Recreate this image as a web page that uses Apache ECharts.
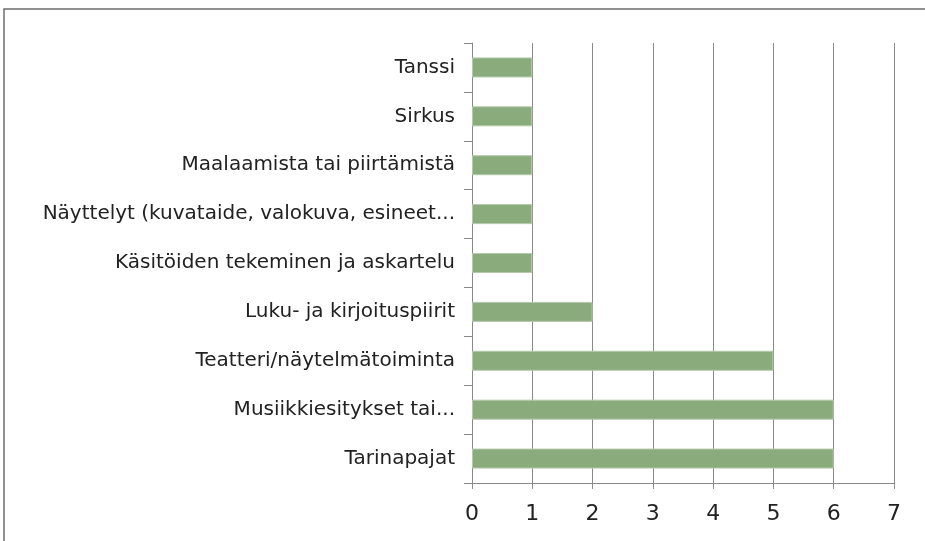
<!DOCTYPE html>
<html>
<head>
<meta charset="utf-8">
<script src="https://cdn.jsdelivr.net/npm/echarts@6/dist/echarts.min.js"></script>
<style>
  html, body { margin: 0; padding: 0; background: #fff; }
  #chart { width: 925px; height: 541px; }
</style>
</head>
<body>
<div id="chart"></div>
<script>
const categories = [
  'Tanssi',
  'Sirkus',
  'Maalaamista tai piirtämistä',
  'Näyttelyt (kuvataide, valokuva, esineet...',
  'Käsitöiden tekeminen ja askartelu',
  'Luku- ja kirjoituspiirit',
  'Teatteri/näytelmätoiminta',
  'Musiikkiesitykset tai...',
  'Tarinapajat'
];
const values = [1, 1, 1, 1, 1, 2, 5, 6, 6];
const xTicks = [0, 1, 2, 3, 4, 5, 6, 7];

const chart = echarts.init(document.getElementById('chart'));
const axisGrey = '#898989';
const font = '"DejaVu Sans", sans-serif';

chart.setOption({
  animation: false,
  graphic: [{
    type: 'rect',
    shape: { x: 4, y: 9, width: 1000, height: 1000 },
    style: { fill: 'none', stroke: '#6d6d6d', lineWidth: 1.5 },
    silent: true
  }],
  grid: { left: 472, right: 31, top: 43, bottom: 58 },
  xAxis: {
    type: 'value',
    min: xTicks[0],
    max: xTicks[xTicks.length - 1],
    interval: 1,
    axisLine: { show: true, lineStyle: { color: axisGrey, width: 1 } },
    axisTick: { show: true, length: 6, lineStyle: { color: axisGrey } },
    splitLine: { show: true, lineStyle: { color: axisGrey, width: 1 } },
    axisLabel: { color: '#222', fontSize: 22, fontFamily: font, margin: 20 }
  },
  yAxis: {
    type: 'category',
    data: categories,
    inverse: true,
    axisLine: { show: true, lineStyle: { color: axisGrey, width: 1 } },
    axisTick: { show: true, length: 8, lineStyle: { color: axisGrey } },
    axisLabel: { color: '#222', fontSize: 20, fontFamily: font, margin: 17 }
  },
  series: [{
    type: 'bar',
    data: values,
    barWidth: 20,
    itemStyle: { color: '#8aab7c', borderColor: '#b5c9ab', borderWidth: 1 }
  }]
});
</script>
</body>
</html>
